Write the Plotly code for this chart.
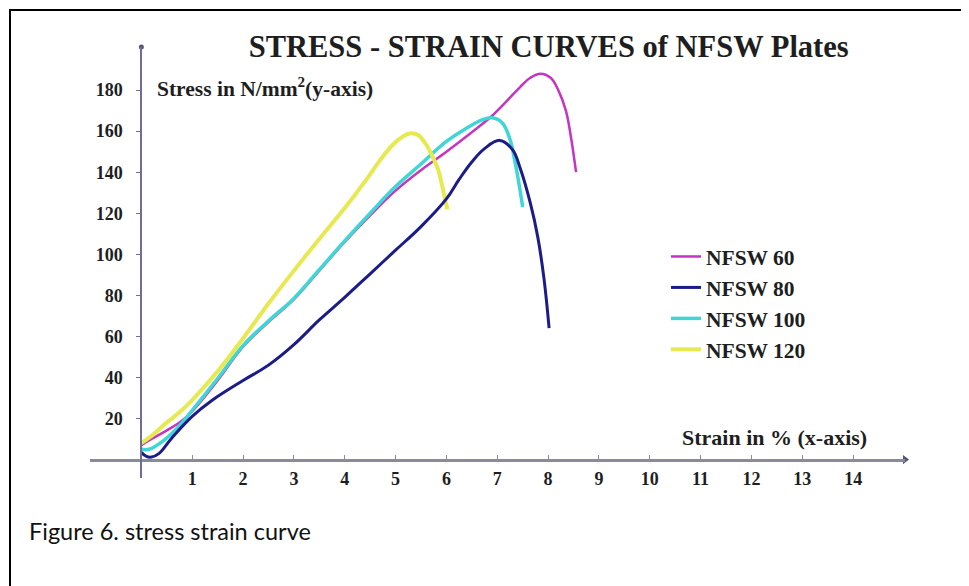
import plotly.graph_objects as go

# strain (%) / stress (N/mm^2)
nfsw60_x = [0, 0.2, 0.45, 0.75, 1.0, 1.5, 2.0, 2.5, 3.0, 3.5, 4.0, 4.5, 5.0, 5.5, 6.0, 6.5,
            6.9, 7.2, 7.45, 7.65, 7.85, 8.05, 8.2, 8.35, 8.45, 8.55]
nfsw60_y = [7, 10, 13.5, 18, 23.5, 38.5, 55, 67, 78, 92, 106, 119, 131, 141, 150, 159.5,
            167.5, 175, 181.5, 186, 188, 186, 180, 170, 157, 140]

nfsw80_x = [0, 0.1, 0.2, 0.35, 0.6, 1.0, 1.4, 2.0, 2.5, 3.0, 3.5, 4.0, 4.5, 5.0, 5.5, 6.0,
            6.25, 6.5, 6.75, 7.05, 7.3, 7.45, 7.65, 7.8, 7.92, 8.02]
nfsw80_y = [3.5, 1.5, 1.2, 3, 10.5, 21, 29, 38.5, 46, 56, 68, 79, 90.5, 102, 113.5, 127,
            136.5, 145, 151.5, 155.5, 151, 142, 125, 108, 88, 64]

nfsw100_x = [0, 0.15, 0.45, 0.75, 1.0, 1.5, 2.0, 2.5, 3.0, 3.5, 4.0, 4.5, 5.0, 5.5, 6.0,
             6.4, 6.7, 6.9, 7.1, 7.25, 7.35, 7.45, 7.5]
nfsw100_y = [5, 5, 9.5, 16.5, 24, 39.5, 55.5, 67.5, 78.5, 92.5, 106.5, 120, 133, 144, 155,
             161.5, 165.5, 166.5, 164, 156, 145, 131, 123]

nfsw120_x = [0, 0.2, 0.45, 0.75, 1.0, 1.5, 2.0, 2.5, 3.0, 3.5, 4.0, 4.4, 4.7, 4.95, 5.15,
             5.3, 5.45, 5.6, 5.72, 5.84, 5.92, 5.98, 6.02]
nfsw120_y = [8, 11.5, 17, 23, 29, 43, 59, 76, 92, 107.5, 122.5, 135.5, 146, 153.5, 157.5,
             159, 158, 153.5, 148, 141, 133, 126, 122]

x_ticks = list(range(1, 15))
y_ticks = list(range(20, 181, 20))

X_RANGE = [-1.01, 15.02]
Y_RANGE = [-9, 201]

SERIF = "Liberation Serif"
AXIS_GREY = "#8a8a9c"
TEXT = "#1e1e1e"

# plot area on the page: left 90, top 47, 815 x 431 px
# (the page body adds an 8px offset, so the margins are 8px smaller)
PX_L, PX_T, PX_W, PX_H = 90, 47, 815, 431


def px_x(px):
    return (px - PX_L) / PX_W


def px_y(py):
    return (PX_T + PX_H - py) / PX_H


# (name, x, y, colour, width, legend rank) - listed in drawing order
series = [
    ("NFSW 60", nfsw60_x, nfsw60_y, "#c435c4", 2.5, 1),
    ("NFSW 100", nfsw100_x, nfsw100_y, "#40d6d6", 3.5, 3),
    ("NFSW 120", nfsw120_x, nfsw120_y, "#e6ea50", 4, 4),
    ("NFSW 80", nfsw80_x, nfsw80_y, "#1c1c88", 3, 2),
]

fig = go.Figure()
for name, xs, ys, colour, width, rank in series:
    fig.add_trace(
        go.Scatter(
            x=xs,
            y=ys,
            mode="lines",
            name=name,
            legendgroup=name,
            legendrank=rank,
            line=dict(color=colour, width=width, shape="spline", smoothing=1.1),
        )
    )

# arrow tips on the axes
fig.add_trace(
    go.Scatter(
        x=[X_RANGE[1]], y=[0], mode="markers", showlegend=False, hoverinfo="skip",
        marker=dict(symbol="triangle-right", size=8, color="#55557a"), cliponaxis=False,
    )
)
fig.add_trace(
    go.Scatter(
        x=[0], y=[Y_RANGE[1]], mode="markers", showlegend=False, hoverinfo="skip",
        marker=dict(symbol="circle", size=5, color="#55557a"), cliponaxis=False,
    )
)

x_pos = (0 - Y_RANGE[0]) / (Y_RANGE[1] - Y_RANGE[0])
y_pos = (0 - X_RANGE[0]) / (X_RANGE[1] - X_RANGE[0])

fig.update_layout(
    width=969,
    height=586,
    margin=dict(l=PX_L - 8, r=969 - PX_L - PX_W + 8, t=PX_T - 8, b=586 - PX_T - PX_H + 8,
                autoexpand=False),
    paper_bgcolor="white",
    plot_bgcolor="white",
    title=dict(
        text="STRESS - STRAIN CURVES of NFSW Plates",
        x=0.558, xanchor="center", y=0.935, yanchor="middle",
        font=dict(family=SERIF, size=30.5, color=TEXT, weight="bold"),
    ),
    xaxis=dict(
        range=X_RANGE,
        anchor="free",
        position=x_pos,
        automargin=False,
        showgrid=False,
        zeroline=False,
        showline=True,
        linecolor=AXIS_GREY,
        linewidth=3,
        tickvals=x_ticks,
        ticks="inside",
        ticklen=4,
        tickwidth=1,
        tickcolor=AXIS_GREY,
        ticklabelstandoff=2,
        tickfont=dict(family=SERIF, size=18, color=TEXT, weight="bold"),
    ),
    yaxis=dict(
        range=Y_RANGE,
        anchor="free",
        position=y_pos,
        automargin=False,
        showgrid=False,
        zeroline=False,
        showline=True,
        linecolor="#6e6e98",
        linewidth=2,
        tickvals=y_ticks,
        ticks="outside",
        ticklen=4,
        tickwidth=1,
        tickcolor="#6e6e98",
        ticklabelstandoff=10,
        tickfont=dict(family=SERIF, size=18, color=TEXT, weight="bold"),
    ),
    legend=dict(
        x=px_x(666), y=px_y(236), xanchor="left", yanchor="top",
        bgcolor="rgba(0,0,0,0)",
        font=dict(family=SERIF, size=21.5, color=TEXT, weight="bold"),
        tracegroupgap=0,
        itemwidth=30,
    ),
    showlegend=True,
)

fig.add_annotation(
    text="Stress in N/mm<sup>2</sup>(y-axis)",
    xref="paper", yref="paper", x=px_x(155), y=px_y(88),
    xanchor="left", yanchor="middle", showarrow=False,
    font=dict(family=SERIF, size=21.5, color=TEXT, weight="bold"),
)
fig.add_annotation(
    text="Strain in % (x-axis)",
    xref="paper", yref="paper", x=px_x(869), y=px_y(437),
    xanchor="right", yanchor="middle", showarrow=False,
    font=dict(family=SERIF, size=22, color=TEXT, weight="bold"),
)
fig.add_annotation(
    text="Figure 6. stress strain curve",
    xref="paper", yref="paper", x=px_x(27), y=px_y(531),
    xanchor="left", yanchor="middle", showarrow=False,
    font=dict(family="Lato", size=23.5, color="#111111"),
)

# page frame (top and left edges are what shows in the window)
fig.add_shape(
    type="rect", xref="paper", yref="paper",
    x0=px_x(10), x1=px_x(964), y0=px_y(600), y1=px_y(10),
    line=dict(color="black", width=2), layer="above",
)

fig.write_html("out.html")
